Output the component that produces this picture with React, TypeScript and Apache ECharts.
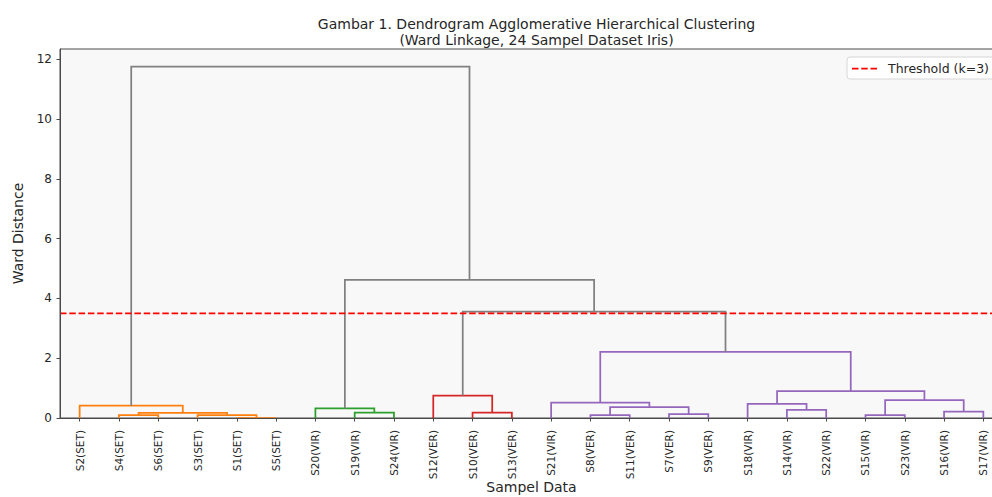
import React, { useEffect, useRef } from "react";
import * as echarts from "echarts";

// Leaf order of the dendrogram (left to right)
const leafLabels = [
  "S2(SET)", "S4(SET)", "S6(SET)", "S3(SET)", "S1(SET)", "S5(SET)",
  "S20(VIR)", "S19(VIR)", "S24(VIR)",
  "S12(VER)", "S10(VER)", "S13(VER)",
  "S21(VIR)", "S8(VER)", "S11(VER)", "S7(VER)", "S9(VER)",
  "S18(VIR)", "S14(VIR)", "S22(VIR)", "S15(VIR)", "S23(VIR)", "S16(VIR)", "S17(VIR)",
];

// Linkage: [left id, right id, ward distance]; ids 0..23 are leaves, 24+ are merges in order
const mergeLeft = [4, 1, 3, 25, 0, 7, 6, 10, 9, 13, 15, 33, 12, 18, 17, 20, 22, 39, 38, 36, 32, 30, 28];
const mergeRight = [5, 2, 24, 26, 27, 8, 29, 11, 31, 14, 16, 34, 35, 19, 37, 21, 23, 40, 41, 42, 43, 44, 45];
const mergeHeight = [0.0, 0.1, 0.1, 0.17, 0.41, 0.18, 0.32, 0.18, 0.75, 0.1, 0.13, 0.36, 0.51, 0.27, 0.47, 0.1, 0.21, 0.6, 0.9, 2.21, 3.56, 4.62, 11.75];

const threshold = 3.5;
const thresholdName = "Threshold (k=3)";
const yTicks = [0, 2, 4, 6, 8, 10, 12];
const yMax = 12.34;

const palette = ["#808080", "#ff7f0e", "#2ca02c", "#d62728", "#9467bd", "#8c564b"];
const FONT = "DejaVu Sans";
const TEXT = "#262626";
const SPINE = "#4a4a4a";

export default function App() {
  const ref = useRef<HTMLDivElement>(null);

  useEffect(() => {
    if (!ref.current) return;
    const chart = echarts.init(ref.current, undefined, { renderer: "svg" });

    const n = leafLabels.length;
    const pos: { x: number; y: number }[] = leafLabels.map((_, i) => ({ x: 5 + 10 * i, y: 0 }));
    mergeLeft.forEach((l, k) => {
      const r = mergeRight[k];
      pos.push({ x: (pos[l].x + pos[r].x) / 2, y: mergeHeight[k] });
    });
    const colorOf: number[] = new Array(mergeLeft.length).fill(0);
    let next = 0;
    const paint = (id: number, c: number) => {
      if (id < n) return;
      const k = id - n;
      let cc = c;
      if (cc === -1 && mergeHeight[k] < threshold) cc = ++next;
      colorOf[k] = cc === -1 ? 0 : cc;
      paint(mergeLeft[k], cc);
      paint(mergeRight[k], cc);
    };
    paint(n + mergeLeft.length - 1, -1);

    const links = mergeLeft.map((l, k) => {
      const r = mergeRight[k];
      return [pos[l].x, pos[l].y, pos[r].x, pos[r].y, mergeHeight[k], colorOf[k]];
    });

    chart.setOption({
      animation: false,
      textStyle: { fontFamily: FONT },
      title: {
        text: "Gambar 1. Dendrogram Agglomerative Hierarchical Clustering\n(Ward Linkage, 24 Sampel Dataset Iris)",
        left: 531.5,
        textAlign: "center",
        top: 11,
        textStyle: { fontFamily: FONT, fontSize: 14, fontWeight: "normal", color: TEXT, lineHeight: 16 },
      },
      legend: {
        data: [
          {
            name: thresholdName,
            icon: "path://M0,0h6.5v1.75h-6.5z M9.25,0h6.5v1.75h-6.5z M18.5,0h6.5v1.75h-6.5z",
          },
        ],
        left: 847,
        top: 57,
        padding: [5, 12, 4, 5],
        itemWidth: 25,
        itemHeight: 1.75,
        itemStyle: { color: "#ff0000" },
        backgroundColor: "#ffffff",
        borderColor: "#d6d6d6",
        borderWidth: 1,
        borderRadius: 3,
        textStyle: { fontFamily: FONT, fontSize: 12.5, color: TEXT, padding: [0, 0, 0, 6], lineHeight: 13 },
      },
      grid: {
        left: 60,
        top: 49,
        width: 943,
        height: 369,
        show: true,
        backgroundColor: "#f8f8f8",
        borderColor: SPINE,
        borderWidth: 1,
        outerBoundsMode: "none",
        containLabel: false,
      },
      xAxis: [
        {
          type: "category",
          data: leafLabels,
          boundaryGap: true,
          z: 10,
          axisLine: { show: true, lineStyle: { color: SPINE, width: 1.2 } },
          axisTick: { show: true, alignWithLabel: true, length: 3.5, lineStyle: { color: SPINE } },
          axisLabel: { rotate: 90, fontSize: 10.5, color: TEXT, margin: 12, interval: 0, fontFamily: FONT },
          splitLine: { show: false },
          name: "Sampel Data",
          nameLocation: "middle",
          nameGap: 62,
          nameMoveOverlap: false,
          nameTextStyle: { fontFamily: FONT, fontSize: 14, color: TEXT },
        },
        {
          type: "value",
          min: 0,
          max: leafLabels.length * 10,
          show: false,
        },
      ],
      yAxis: {
        type: "value",
        min: 0,
        max: yMax,
        interval: 2,
        z: 10,
        axisLine: { show: true, lineStyle: { color: SPINE, width: 1 } },
        axisTick: { show: true, length: 3.5, lineStyle: { color: SPINE } },
        axisLabel: {
          fontSize: 12,
          color: TEXT,
          margin: 8,
          showMaxLabel: false,
          fontFamily: FONT,
          formatter: (v: number) => (yTicks.includes(v) ? String(v) : ""),
        },
        splitLine: { show: false },
        name: "Ward Distance",
        nameLocation: "middle",
        nameGap: 35,
        nameMoveOverlap: false,
        nameTextStyle: { fontFamily: FONT, fontSize: 14, color: TEXT },
      },
      series: [
        {
          type: "custom",
          name: "dendrogram",
          xAxisIndex: 1,
          yAxisIndex: 0,
          data: links,
          encode: { x: [0, 2], y: [1, 3, 4] },
          z: 2,
          renderItem: (_params: any, api: any) => {
            const a = api.coord([api.value(0), api.value(1)]);
            const b = api.coord([api.value(0), api.value(4)]);
            const c = api.coord([api.value(2), api.value(4)]);
            const d = api.coord([api.value(2), api.value(3)]);
            return {
              type: "polyline",
              shape: { points: [a, b, c, d] },
              style: { stroke: palette[api.value(5)], lineWidth: 1.75, fill: "none" },
            };
          },
        },
        {
          type: "line",
          name: thresholdName,
          xAxisIndex: 1,
          yAxisIndex: 0,
          data: [[0, threshold], [leafLabels.length * 10, threshold]],
          symbol: "none",
          z: 5,
          lineStyle: { color: "#ff0000", width: 1.75, type: [6.5, 2.8] },
          itemStyle: { color: "#ff0000" },
        },
      ],
    });

    return () => chart.dispose();
  }, []);

  return (
    <div
      ref={ref}
      style={{ position: "fixed", left: 0, top: 0, width: 992, height: 497, background: "#ffffff" }}
    />
  );
}
